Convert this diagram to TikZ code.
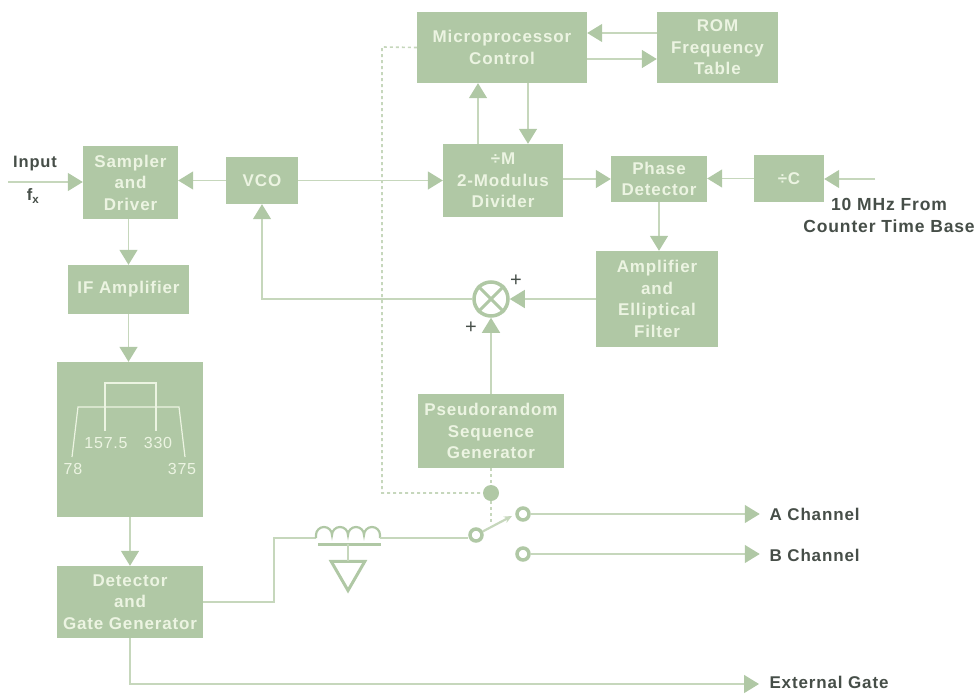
\documentclass[tikz,border=0pt]{standalone}
\usepackage{fontspec}
\setmainfont[LetterSpace=5]{Liberation Sans}
\usetikzlibrary{arrows.meta,positioning,shapes.geometric}
\definecolor{boxgreen}{RGB}{176,200,165}
\definecolor{linegreen}{RGB}{198,215,188}
\definecolor{textgreen}{RGB}{236,244,226}
\definecolor{inkgrey}{RGB}{70,78,72}
\tikzset{
    block/.style={fill=boxgreen,text=textgreen,align=center,inner sep=0pt,font=\fontsize{17}{21.5}\selectfont\bfseries},
    wire/.style={draw=linegreen,line width=1.4pt},
    flow/.style={wire,-{Triangle[length=15pt,width=18pt,color=boxgreen]}},
    ctrl/.style={draw=linegreen,line width=1.6pt,dash pattern=on 3pt off 3pt},
    contact/.style={circle,draw=boxgreen,fill=white,line width=3.5pt,minimum size=12pt,inner sep=0pt},
    outlabel/.style={text=inkgrey,anchor=west,font=\fontsize{17}{21}\selectfont\bfseries},
    passband/.style={draw=textgreen,line width=1.2pt},
    bandlabel/.style={text=textgreen,inner sep=0pt,font=\fontsize{16}{18}\selectfont}
}
\begin{document}
\begin{tikzpicture}[x=1pt,y=-1pt,on grid]
    \useasboundingbox (0,0) rectangle (976,693);
    \node[block,minimum width=95pt,minimum height=73pt] (sampler) at (130.5,182.5) {Sampler\\and\\Driver};
    \node[block,minimum width=72pt,minimum height=47pt] (vco) [right=131.5pt of sampler,yshift=2pt] {VCO};
    \node[block,minimum width=120pt,minimum height=73pt] (divider) [right=241pt of vco] {÷M\\2-Modulus\\Divider};
    \node[block,minimum width=96pt,minimum height=46pt] (phase) [right=156pt of divider,yshift=1.5pt] {Phase\\Detector};
    \node[block,minimum width=70pt,minimum height=47pt] (divc) [right=130pt of phase,yshift=.5pt] {÷C};
    \node[block,minimum width=170pt,minimum height=71pt] (micro) [above=133pt of divider,xshift=-1pt] {Microprocessor\\Control};
    \node[block,minimum width=121pt,minimum height=71pt] (rom) [right=215.5pt of micro] {ROM\\Frequency\\Table};
    \node[block,minimum width=121pt,minimum height=49pt] (ifamp) [below=107pt of sampler,xshift=-2pt] {IF Amplifier};
    \node[block,minimum width=146pt,minimum height=155pt] (bandpass) [below=150pt of ifamp,xshift=1.5pt] {};
    \node[block,minimum width=146pt,minimum height=72pt] (detector) [below=162.5pt of bandpass] {Detector\\and\\Gate Generator};
    \node[block,minimum width=122pt,minimum height=96pt] (amp) [below=120pt of phase,xshift=-2pt] {Amplifier\\and\\Elliptical\\Filter};
    \node[circle,draw=boxgreen,fill=white,line width=3.5pt,minimum size=34pt,inner sep=0pt] (mixer) at (491,299) {};
    \node[block,minimum width=146pt,minimum height=74pt] (pseudo) [below=132pt of mixer] {Pseudorandom\\Sequence\\Generator};
    \node[circle,fill=boxgreen,minimum size=16pt,inner sep=0pt] (dot) at (491,493) {};
    \node[contact] (pole) at (476,535) {};
    \node[contact] (chana) at (523,514) {};
    \node[contact] (chanb) [below=40pt of chana] {};
    \node[regular polygon,regular polygon sides=3,shape border rotate=180,draw=boxgreen,line width=3pt,minimum size=39pt,inner sep=0pt] (ground) at (348,571) {};

    % outer text
    \node[text=inkgrey,font=\fontsize{16.5}{18}\selectfont\bfseries] (inputlabel) at (35,164) {Input};
    \node[text=inkgrey,font=\fontsize{16.5}{18}\selectfont\bfseries] (fxlabel) at (33,196) {f$_{\mathbf{x}}$};
    \node[text=inkgrey,align=center,font=\fontsize{17.5}{22}\selectfont\bfseries] (reflabel) at (889,215) {10 MHz From\\Counter Time Base};
    \node[outlabel] (alabel) at (766,514) {A Channel};
    \node[outlabel] (blabel) at (766,555) {B Channel};
    \node[outlabel] (gatelabel) at (766,682) {External Gate};
    \node[text=inkgrey,font=\fontsize{20}{20}\selectfont] (plusa) at (516,281) {+};
    \node[text=inkgrey,font=\fontsize{20}{20}\selectfont] (plusb) at (471,328) {+};

    % signal path
    \coordinate (input) at (8,182);
    \coordinate (refin) at (875,179);
    \draw[flow] (input) -- (input -| sampler.west);
    \draw[flow] (vco) -- (vco -| sampler.east);
    \draw[flow] (vco.east) -- (divider.west);
    \draw[flow] (divider.east |- phase) -- (phase.west);
    \draw[flow] (divc) -- (divc -| phase.east);
    \draw[flow] (refin) -- (refin -| divc.east);
    \draw[flow] (phase.south) -- (phase.south |- amp.north);
    \draw[flow] (amp.west |- mixer) -- (mixer.east);
    \draw[flow] (pseudo.north) -- (mixer.south);
    \draw[flow] (mixer.west) -| (vco.south);
    \draw[flow] (ifamp.north |- sampler.south) -- (ifamp.north);
    \draw[flow] (ifamp.south) -- (ifamp.south |- bandpass.north);
    \draw[flow] (bandpass) -- (detector.north);

    % microprocessor and table
    \draw[flow] (478,0 |- divider.north) -- (478,0 |- micro.south);
    \draw[flow] (528,0 |- micro.south) -- (528,0 |- divider.north);
    \draw[flow] (rom.west |- 0,33) -- (micro.east |- 0,33);
    \draw[flow] (micro.east |- 0,59) -- (rom.west |- 0,59);

    % filter passbands
    \coordinate (outera) at (72,457);
    \coordinate (outerb) at (78,407);
    \coordinate (outerc) at (179,407);
    \coordinate (outerd) at (185,457);
    \coordinate (innera) at (105,431);
    \coordinate (innerb) at (105,383);
    \coordinate (innerc) at (156,383);
    \coordinate (innerd) at (156,431);
    \draw[passband] (outera) -- (outerb) -- (outerc) -- (outerd);
    \draw[passband] (innera) -- (innerb) -- (innerc) -- (innerd);
    \node[bandlabel] (banda) at (73,469) {78};
    \node[bandlabel] (bandb) at (106,443) {157.5};
    \node[bandlabel] (bandc) at (158,443) {330};
    \node[bandlabel] (bandd) at (182,469) {375};

    % mixer cross
    \draw[draw=boxgreen,line width=3pt] (mixer.north west) -- (mixer.south east);
    \draw[draw=boxgreen,line width=3pt] (mixer.north east) -- (mixer.south west);

    % inductor and switch
    \coordinate (coilin) at (316,538);
    \coordinate (coilout) at (380,538);
    \coordinate (coilbend) at (274,538);
    \coordinate (platea) at (318,544);
    \coordinate (plateb) at (381,544);
    \coordinate (platemid) at (348,544);
    \coordinate (stem) at (348,561);
    \coordinate (armend) at (512,516);
    \coordinate (gateend) at (759,684);
    \draw[wire] (detector.east) -| (coilbend) -- (coilin);
    \draw[draw=boxgreen,line width=2.2pt] (coilin) -- ++(0,-3)
        arc[start angle=180,end angle=0,radius=8pt]
        arc[start angle=180,end angle=0,radius=8pt]
        arc[start angle=180,end angle=0,radius=8pt]
        arc[start angle=180,end angle=0,radius=8pt] -- (coilout);
    \draw[draw=boxgreen,line width=3pt] (platea) -- (plateb);
    \draw[wire] (platemid) -- (stem);
    \draw[wire] (coilout) -- (coilout -| pole.west);
    \draw[draw=linegreen,line width=2.2pt,-{Stealth[length=8pt,width=7pt]}] (pole) -- (armend);
    \draw[flow] (chana.east) -- ++(229,0);
    \draw[flow] (chanb.east) -- ++(229,0);
    \draw[flow] (detector.south) |- (gateend);

    % control lines
    \draw[ctrl] (micro.west) -- (382,47) -- (382,493) -- (dot);
    \draw[ctrl] (pseudo.south) -- (dot);
    \draw[ctrl] (dot) -- (491,522);
\end{tikzpicture}
\end{document}
